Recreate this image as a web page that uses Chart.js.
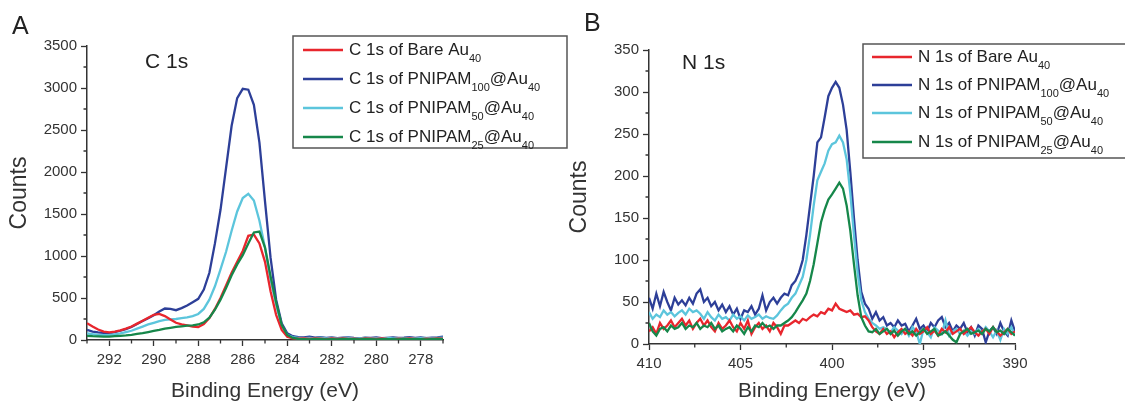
<!DOCTYPE html>
<html>
<head>
<meta charset="utf-8">
<script src="https://cdn.jsdelivr.net/npm/chart.js@4.4.0/dist/chart.umd.min.js"></script>
<style>
  body { margin: 0; background: #fff; }
  #wrap { position: relative; width: 1125px; height: 408px; overflow: hidden; }
  canvas { position: absolute; top: 0; }
  #chartA { left: 0; }
  #chartB { left: 560px; }
</style>
</head>
<body>
<div id="wrap">
  <canvas id="chartA" width="580" height="408"></canvas>
  <canvas id="chartB" width="565" height="408"></canvas>
</div>
<script>
const FONT = '"Liberation Sans", Arial, sans-serif';
const INK = '#333';

// ---- panel A: C 1s ----
const energyA = [
  293, 292.75, 292.5, 292.25, 292, 291.75, 291.5, 291.25,
  291, 290.75, 290.5, 290.25, 290, 289.75, 289.5, 289.25,
  289, 288.75, 288.5, 288.25, 288, 287.75, 287.5, 287.25,
  287, 286.75, 286.5, 286.25, 286, 285.75, 285.5, 285.25,
  285, 284.75, 284.5, 284.25, 284, 283.75, 283.5, 283.25,
  283, 282.75, 282.5, 282.25, 282, 281.75, 281.5, 281.25,
  281, 280.75, 280.5, 280.25, 280, 279.75, 279.5, 279.25,
  279, 278.75, 278.5, 278.25, 278, 277.75, 277.5, 277.25,
  277
];
const bareC = [
  200, 160, 125, 100, 90, 100, 115, 135,
  160, 195, 230, 265, 300, 310, 285, 245,
  205, 185, 175, 160, 155, 190, 260, 370,
  500, 650, 800, 930, 1060, 1240, 1255, 1150,
  930, 580, 300, 120, 40, 20, 15, 18,
  12, 20, 15, 10, 18, 14, 20, 12,
  16, 10, 18, 15, 12, 20, 14, 10,
  16, 12, 18, 14, 10, 16, 12, 18,
  15
];
const p100C = [
  120, 100, 90, 85, 80, 95, 110, 130,
  155, 190, 225, 260, 295, 340, 375, 370,
  355, 380, 410, 450, 490, 600, 800, 1150,
  1550, 2050, 2550, 2880, 2990, 2980, 2800, 2350,
  1650, 980, 480, 200, 80, 45, 35, 30,
  40, 28, 35, 25, 30, 22, 28, 32,
  25, 20, 28, 24, 30, 22, 26, 30,
  24, 28, 35, 25, 30, 22, 28, 32,
  40
];
const p50C = [
  80, 70, 62, 58, 60, 68, 80, 95,
  110, 135, 160, 185, 205, 225, 240, 245,
  250, 260, 270, 285, 310, 370, 480, 640,
  840, 1050, 1300, 1530, 1690, 1740, 1660, 1420,
  1100, 720, 420, 170, 60, 35, 25, 22,
  25, 20, 28, 18, 24, 20, 22, 26,
  18, 20, 24, 18, 22, 20, 25, 18,
  22, 20, 24, 18, 22, 26, 20, 24,
  28
];
const p25C = [
  50, 45, 42, 40, 40, 45, 50, 55,
  62, 72, 82, 95, 108, 120, 135, 145,
  155, 162, 170, 175, 185, 210, 265, 360,
  480, 620, 770, 900, 1010, 1150, 1280, 1290,
  1100, 760, 450, 180, 60, 25, 12, 10,
  8, 12, 10, 6, 10, 8, 12, 9,
  10, 7, 12, 10, 8, 11, 9, 10,
  8, 12, 10, 9, 11, 8, 10, 12,
  10
];
const xTicksA = [292, 290, 288, 286, 284, 282, 280, 278];
const xMinorA = [293, 291, 289, 287, 285, 283, 281, 279, 277];
const yTicksA = [0, 500, 1000, 1500, 2000, 2500, 3000, 3500];
const yMinorA = [250, 750, 1250, 1750, 2250, 2750, 3250];
const labelsA = ['C 1s of Bare Au_40', 'C 1s of PNIPAM_100@Au_40', 'C 1s of PNIPAM_50@Au_40', 'C 1s of PNIPAM_25@Au_40'];

// ---- panel B: N 1s ----
const energyB = [
  410, 409.8, 409.6, 409.4, 409.2, 409, 408.8, 408.6, 408.4, 408.2,
  408, 407.8, 407.6, 407.4, 407.2, 407, 406.8, 406.6, 406.4, 406.2,
  406, 405.8, 405.6, 405.4, 405.2, 405, 404.8, 404.6, 404.4, 404.2,
  404, 403.8, 403.6, 403.4, 403.2, 403, 402.8, 402.6, 402.4, 402.2,
  402, 401.8, 401.6, 401.4, 401.2, 401, 400.8, 400.6, 400.4, 400.2,
  400, 399.8, 399.6, 399.4, 399.2, 399, 398.8, 398.6, 398.4, 398.2,
  398, 397.8, 397.6, 397.4, 397.2, 397, 396.8, 396.6, 396.4, 396.2,
  396, 395.8, 395.6, 395.4, 395.2, 395, 394.8, 394.6, 394.4, 394.2,
  394, 393.8, 393.6, 393.4, 393.2, 393, 392.8, 392.6, 392.4, 392.2,
  392, 391.8, 391.6, 391.4, 391.2, 391, 390.8, 390.6, 390.4, 390.2,
  390
];
const bareN = [
  15, 20, 12, 25, 18, 22, 28, 20, 25, 30,
  22, 28, 18, 25, 30, 22, 28, 20, 15, 25,
  18, 22, 28, 20, 15, 25, 18, 28, 12, 20,
  25, 18, 22, 15, 25, 20, 12, 22, 22, 25,
  28, 25, 30, 28, 32, 35, 33, 38, 36, 42,
  40, 48, 42, 40, 38, 40, 35, 36, 32, 33,
  28, 20, 15, 12, 18, 12, 15, 8, 14, 18,
  12, 15, 10, 18, 12, 15, 20, 12, 16, 10,
  18, 14, 20, 12, 15, 18, 12, 16, 20, 14,
  10, 15, 18, 12, 20, 15, 10, 14, 18, 12,
  15
];
const p100N = [
  55, 42, 60, 45, 62, 50, 40, 55, 47, 52,
  46, 55, 48, 60, 65, 50, 55, 45, 50, 40,
  47, 38, 45, 35, 42, 30, 40, 38, 45, 35,
  42, 58, 40, 50, 55, 48, 55, 60, 58, 70,
  75, 85, 100, 130, 165, 200, 240, 246, 270, 295,
  305, 312, 305, 285, 255, 205, 150, 100, 62, 48,
  42, 30, 38, 28, 32, 22, 25, 20, 28, 22,
  24, 15, 22, 30, 18, 22, 15, 25, 20, 28,
  32, 20, 25, 15, 22, 18, 25, 14, 20, 10,
  22, 18, 2, 15, 20, 12, 25, 15, 10, 28,
  15
];
const p50N = [
  38, 30, 35, 32, 40, 35, 38, 33, 37, 40,
  35, 42, 38, 40, 36, 30, 38, 32, 28, 35,
  30, 32, 28, 35, 30, 33, 28, 34, 30, 32,
  35, 30, 33, 31, 30, 34, 40, 45, 48, 55,
  60, 70, 80, 100, 130, 165, 195, 205, 215, 230,
  238, 240, 248, 240, 220, 180, 130, 85, 52, 38,
  30, 25, 22, 18, 20, 18, 14, 20, 16, 12,
  18, 10, 20, 15, 0, 18, 14, 8, 20, 16,
  12, 28, 10, 15, 18, 12, 16, 10, 15, 12,
  18, 14, 20, 15, 8, 16, 5, 18, 12, 20,
  10
];
const p25N = [
  25, 15, 10, 18, 20, 15, 22, 18, 20, 25,
  18, 22, 20, 25, 18, 22, 20, 25, 18, 22,
  15, 18, 20, 15, 22, 18, 12, 20, 15, 22,
  20, 25, 20, 22, 18, 22, 22, 25, 28, 32,
  38, 45, 52, 60, 75, 95, 120, 145, 160, 172,
  178, 185, 192, 185, 165, 135, 95, 58, 32, 22,
  15, 14, 18, 12, 15, 18, 12, 16, 10, 15,
  18, 12, 15, 10, 14, 18, 12, 15, 18, 10,
  12, 15, 10, 5, 2, 12, 15, 18, 12, 14,
  16, 12, 18, 15, 20, 14, 16, 12, 18, 14,
  10
];
const xTicksB = [410, 405, 400, 395, 390];
const xMinorB = [407.5, 402.5, 397.5, 392.5];
const yTicksB = [0, 50, 100, 150, 200, 250, 300, 350];
const yMinorB = [25, 75, 125, 175, 225, 275, 325];
const labelsB = ['N 1s of Bare Au_40', 'N 1s of PNIPAM_100@Au_40', 'N 1s of PNIPAM_50@Au_40', 'N 1s of PNIPAM_25@Au_40'];

const colors = ['#e8262d', '#2d3f98', '#5cc5dc', '#16874a'];
const drawOrder = [1, 3, 2, 0]; // green on top

Chart.defaults.font.family = FONT;
Chart.defaults.color = INK;

// text with _digits as subscripts
function drawRich(ctx, str, x, y, size) {
  const parts = str.split(/_(\d+)/);
  parts.forEach((p, i) => {
    if (!p) return;
    const sub = i % 2 === 1;
    ctx.font = (sub ? Math.round(size * 0.65) : size) + 'px ' + FONT;
    ctx.fillText(p, x, y + (sub ? size * 0.5 : 0));
    x += ctx.measureText(p).width;
  });
}

const decor = {
  id: 'panelDecor',
  afterDraw(chart, args, o) {
    const ctx = chart.ctx;
    const { x, y } = chart.scales;
    const area = chart.chartArea;
    ctx.save();
    // minor ticks
    ctx.strokeStyle = INK;
    ctx.lineWidth = 1.3;
    ctx.beginPath();
    o.xMinor.forEach(v => {
      const px = x.getPixelForValue(v);
      ctx.moveTo(px, area.bottom);
      ctx.lineTo(px, area.bottom + 3.5);
    });
    o.yMinor.forEach(v => {
      const py = y.getPixelForValue(v);
      ctx.moveTo(area.left, py);
      ctx.lineTo(area.left - 3.5, py);
    });
    ctx.stroke();

    // panel letter and core level
    ctx.fillStyle = '#222';
    ctx.textBaseline = 'middle';
    ctx.textAlign = 'left';
    ctx.font = '25px ' + FONT;
    ctx.fillText(o.letter, o.letterX, o.letterY);
    ctx.font = '21px ' + FONT;
    ctx.fillText(o.core, o.coreX, o.coreY);

    // legend
    const L = o.legend;
    ctx.strokeStyle = '#555';
    ctx.lineWidth = 1.5;
    ctx.strokeRect(L.x, L.y, L.w, L.h);
    o.labels.forEach((lab, i) => {
      const ry = L.rows[i];
      ctx.strokeStyle = colors[i];
      ctx.lineWidth = 2.5;
      ctx.beginPath();
      ctx.moveTo(L.x1, ry);
      ctx.lineTo(L.x2, ry);
      ctx.stroke();
      ctx.fillStyle = '#222';
      drawRich(ctx, lab, L.tx, ry, 17);
    });
    ctx.restore();
  }
};

function makePanel(id, p) {
  const datasets = p.series.map((vals, i) => ({
    data: p.energy.map((e, k) => ({ x: e, y: vals[k] })),
    borderColor: colors[i],
    borderWidth: 2.3,
    pointRadius: 0,
    tension: 0,
    fill: false,
    order: drawOrder[i]
  }));
  return new Chart(document.getElementById(id), {
    type: 'line',
    data: { datasets },
    plugins: [decor],
    options: {
      responsive: false,
      animation: false,
      events: [],
      layout: { padding: { top: p.top, right: p.right, left: 0, bottom: 0 } },
      plugins: { legend: { display: false }, tooltip: { enabled: false }, panelDecor: p.decor },
      scales: {
        x: {
          type: 'linear', reverse: true, min: p.xMin, max: p.xMax,
          afterBuildTicks: s => { s.ticks = p.xTicks.map(v => ({ value: v })); },
          afterFit: s => { s.height = p.xAxisH; },
          grid: { drawOnChartArea: false, tickLength: 6, color: INK, tickWidth: 1.3 },
          border: { color: INK, width: 1.5 },
          ticks: { font: { size: 15 }, color: INK, padding: 5, maxRotation: 0, autoSkip: false, callback: v => String(v) },
          title: { display: true, text: 'Binding Energy (eV)', font: { size: 21 }, color: INK, padding: { top: 0, bottom: 4 } }
        },
        y: {
          type: 'linear', min: 0, max: p.yMax,
          afterBuildTicks: s => { s.ticks = p.yTicks.map(v => ({ value: v })); },
          afterFit: s => { s.width = p.yAxisW; },
          grid: { drawOnChartArea: false, tickLength: 6, color: INK, tickWidth: 1.3 },
          border: { color: INK, width: 1.5 },
          ticks: { font: { size: 15 }, color: INK, padding: 4, autoSkip: false, callback: v => String(v) },
          title: { display: true, text: 'Counts', font: { size: 23 }, color: INK, padding: { top: 6, bottom: 0 } }
        }
      }
    }
  });
}

makePanel('chartA', {
  energy: energyA, series: [bareC, p100C, p50C, p25C],
  xMin: 277, xMax: 293, yMax: 3500,
  xTicks: xTicksA, yTicks: yTicksA,
  top: 46, right: 137, xAxisH: 68, yAxisW: 87,
  decor: {
    xMinor: xMinorA, yMinor: yMinorA, labels: labelsA,
    letter: 'A', letterX: 12, letterY: 27,
    core: 'C 1s', coreX: 145, coreY: 62,
    legend: { x: 293, y: 36, w: 274, h: 112, rows: [50, 79, 108, 137], x1: 303, x2: 343, tx: 349 }
  }
});

makePanel('chartB', {
  energy: energyB, series: [bareN, p100N, p50N, p25N],
  xMin: 390, xMax: 410, yMax: 350,
  xTicks: xTicksB, yTicks: yTicksB,
  top: 50, right: 110, xAxisH: 64, yAxisW: 89,
  decor: {
    xMinor: xMinorB, yMinor: yMinorB, labels: labelsB,
    letter: 'B', letterX: 24, letterY: 24,
    core: 'N 1s', coreX: 122, coreY: 63,
    legend: { x: 303, y: 44, w: 270, h: 114, rows: [57, 85, 113, 142], x1: 312, x2: 352, tx: 358 }
  }
});
</script>
</body>
</html>
